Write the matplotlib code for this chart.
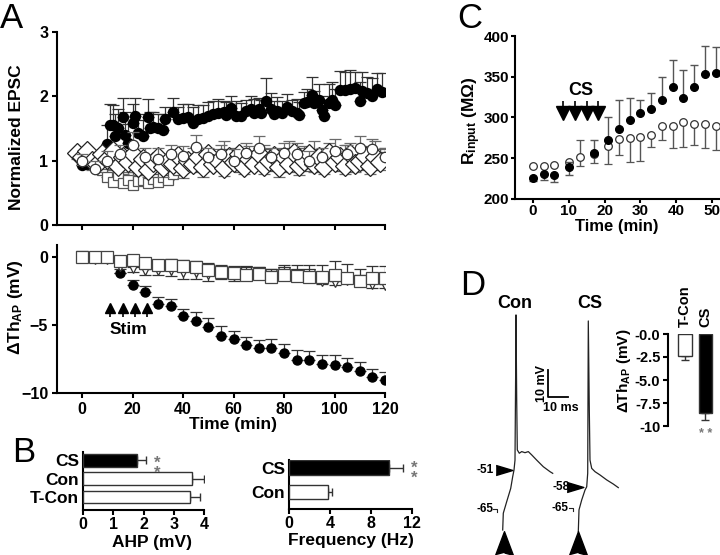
import numpy as np
import matplotlib
matplotlib.use('Agg')
import matplotlib.pyplot as plt

plt.rcParams['font.family'] = ['Liberation Sans', 'DejaVu Sans']
plt.rcParams['font.weight'] = 'bold'
plt.rcParams['mathtext.fontset'] = 'custom'
plt.rcParams['mathtext.rm'] = 'Liberation Sans:bold'
plt.rcParams['mathtext.bf'] = 'Liberation Sans:bold'
plt.rcParams['mathtext.it'] = 'Liberation Sans:bold'

# ---------------- data: panel A (top, normalized EPSC) ----------------
cs_epsc_t = [0, 2, 4, 6, 8, 10, 11, 12, 13, 14,
             16, 17, 18, 20, 21, 22, 24, 26, 27, 28,
             30, 32, 33, 36, 38, 40, 42, 44, 46, 48,
             50, 52, 54, 56, 57, 59, 61, 63, 65, 67,
             68, 70, 71, 73, 75, 76, 77, 79, 81, 83,
             85, 86, 88, 89, 91, 92, 94, 95, 96, 98,
             99, 100, 102, 104, 106, 108, 110, 111, 113, 115,
             117, 119]
cs_epsc = [0.93, 0.95, 0.98, 0.96, 1.00, 1.26, 1.56, 1.56, 1.38, 1.51,
           1.68, 1.40, 1.27, 1.58, 1.69, 1.43, 1.38, 1.68, 1.51, 1.53,
           1.51, 1.48, 1.64, 1.75, 1.64, 1.66, 1.68, 1.58, 1.65, 1.66,
           1.69, 1.73, 1.74, 1.75, 1.71, 1.82, 1.70, 1.69, 1.77, 1.80,
           1.74, 1.80, 1.74, 1.93, 1.80, 1.72, 1.77, 1.74, 1.83, 1.77,
           1.74, 1.71, 1.89, 1.91, 2.02, 1.89, 1.94, 1.79, 1.69, 1.89,
           1.94, 1.87, 2.10, 2.10, 2.11, 2.13, 1.92, 2.08, 2.05, 2.00,
           2.12, 2.06]
cs_epsc_err = [0.05, 0.05, 0.05, 0.05, 0.08, 0.30, 0.32, 0.30, 0.35, 0.30,
               0.30, 0.35, 0.30, 0.30, 0.28, 0.30, 0.25, 0.28, 0.25, 0.22,
               0.22, 0.25, 0.20, 0.22, 0.20, 0.22, 0.20, 0.25, 0.22, 0.20,
               0.22, 0.20, 0.22, 0.18, 0.20, 0.18, 0.22, 0.20, 0.18, 0.20,
               0.22, 0.18, 0.20, 0.35, 0.25, 0.20, 0.22, 0.18, 0.20, 0.18,
               0.22, 0.20, 0.18, 0.20, 0.28, 0.20, 0.25, 0.22, 0.18, 0.30,
               0.28, 0.25, 0.30, 0.28, 0.30, 0.25, 0.30, 0.30, 0.25, 0.28,
               0.25, 0.30]

dia_t = [-2, 0, 2, 4, 6, 8, 10, 12, 14, 16,
         18, 20, 22, 24, 26, 28, 30, 32, 34, 36,
         38, 40, 42, 44, 46, 48, 50, 52, 54, 56,
         58, 60, 62, 64, 66, 68, 70, 72, 74, 76,
         78, 80, 82, 84, 86, 88, 90, 92, 94, 96,
         98, 100, 102, 104, 106, 108, 110, 112, 114, 116,
         118]
dia_v = [1.12, 1.05, 1.15, 1.00, 0.95, 1.10, 1.02, 1.15, 0.92, 1.05,
         0.98, 1.10, 0.90, 1.02, 0.85, 0.98, 1.05, 0.90, 1.00, 0.95,
         1.08, 0.88, 1.00, 0.95, 1.05, 0.90, 1.10, 0.95, 1.00, 0.88,
         1.05, 0.98, 1.10, 0.90, 1.02, 0.95, 1.10, 0.92, 1.00, 1.08,
         0.90, 1.05, 0.95, 1.12, 0.92, 1.00, 1.10, 0.95, 1.05, 0.90,
         1.12, 0.98, 1.05, 0.92, 1.10, 0.95, 1.00, 1.08, 0.92, 1.05,
         0.98]
dia_err = [0.10, 0.12, 0.10, 0.15, 0.12, 0.10, 0.15, 0.12, 0.10, 0.12,
           0.15, 0.10, 0.12, 0.15, 0.10, 0.12, 0.10, 0.15, 0.12, 0.10,
           0.12, 0.15, 0.10, 0.12, 0.10, 0.15, 0.12, 0.10, 0.15, 0.12,
           0.10, 0.12, 0.15, 0.10, 0.12, 0.10, 0.15, 0.12, 0.10, 0.12,
           0.15, 0.10, 0.12, 0.10, 0.15, 0.12, 0.10, 0.12, 0.15, 0.10,
           0.12, 0.10, 0.15, 0.12, 0.10, 0.12, 0.15, 0.10, 0.12, 0.10,
           0.12]

sq_t = [0, 2, 4, 6, 8, 10, 12, 14, 16, 18,
        20, 22, 24, 26, 28, 30, 32, 34, 36, 38,
        40, 42, 44, 46, 48, 50, 52, 54, 56, 58,
        60, 62, 64, 66, 68, 70, 72, 74, 76, 78,
        80, 82, 84, 86, 88, 90, 92, 94, 96, 98,
        100, 102, 104, 106, 108, 110, 112, 114, 116, 118,
        120]
sq_v = [1.00, 0.97, 0.95, 0.90, 0.85, 0.75, 0.67, 0.78, 0.65, 0.70,
        0.62, 0.68, 0.70, 0.65, 0.72, 0.67, 0.75, 0.70, 0.80, 0.85,
        0.90, 0.95, 1.00, 0.92, 1.05, 0.95, 1.00, 0.98, 1.10, 0.95,
        1.05, 0.90, 1.00, 1.08, 0.95, 1.02, 1.10, 0.92, 1.00, 1.05,
        0.95, 1.12, 0.98, 1.00, 1.05, 0.92, 1.10, 1.00, 0.95, 1.08,
        1.00, 0.92, 1.05, 1.10, 0.95, 1.00, 1.05, 0.98, 1.10, 1.00,
        1.05]
sq_err = [0.10, 0.12, 0.15, 0.12, 0.15, 0.20, 0.18, 0.20, 0.15, 0.18,
          0.20, 0.15, 0.18, 0.20, 0.15, 0.18, 0.15, 0.20, 0.18, 0.15,
          0.18, 0.15, 0.20, 0.18, 0.15, 0.20, 0.18, 0.15, 0.20, 0.18,
          0.15, 0.20, 0.18, 0.15, 0.20, 0.18, 0.15, 0.20, 0.18, 0.15,
          0.20, 0.18, 0.15, 0.20, 0.18, 0.15, 0.20, 0.18, 0.15, 0.20,
          0.18, 0.15, 0.20, 0.18, 0.15, 0.20, 0.18, 0.15, 0.20, 0.18,
          0.15]

oc_t = [0, 5, 10, 15, 20, 25, 30, 35, 40, 45, 50, 55, 60,
        65, 70, 75, 80, 85, 90, 95, 100, 105, 110, 115, 120]
oc_v = [1.00, 0.87, 1.00, 1.10, 1.24, 1.05, 1.02, 1.10, 1.08, 1.22, 1.05, 1.10, 1.00,
        1.12, 1.19, 1.05, 1.12, 1.10, 1.00, 1.05, 1.15, 1.10, 1.20, 1.18, 1.05]
oc_err = [0.10, 0.12, 0.15, 0.15, 0.20, 0.15, 0.18, 0.15, 0.15, 0.18, 0.15, 0.15, 0.18,
          0.15, 0.20, 0.15, 0.15, 0.18, 0.15, 0.15, 0.18, 0.15, 0.18, 0.15, 0.15]

# ---------------- data: panel A (bottom, threshold change) ----------------
th_t = [0, 5, 10, 15, 20, 25, 30, 35, 40, 45, 50, 55, 60,
        65, 70, 75, 80, 85, 90, 95, 100, 105, 110, 115, 120]
th_cs = [0.0, -0.05, -0.10, -1.18, -2.06, -2.60, -3.45, -3.60, -4.34, -4.68, -5.17, -5.80, -6.05,
         -6.47, -6.70, -6.70, -7.08, -7.57, -7.60, -7.87, -7.94, -8.06, -8.35, -8.80, -9.05]
th_cs_err = [0.1, 0.1, 0.1, 0.0, 0.37, 0.45, 0.50, 0.50, 0.50, 0.60, 0.65, 0.70, 0.60,
             0.60, 0.60, 0.70, 0.70, 0.70, 0.70, 0.70, 0.70, 0.60, 0.60, 0.60, 0.60]
th_sq = [0.0, 0.0, 0.02, -0.27, -0.22, -0.47, -0.59, -0.59, -0.66, -0.71, -0.96, -1.08, -1.20,
         -1.32, -1.27, -1.45, -1.32, -1.40, -1.45, -1.50, -1.32, -1.57, -1.80, -1.55, -1.55]
th_sq_err = [0.10, 0.10, 0.15, 0.20, 0.30, 0.35, 0.40, 0.45, 0.45, 0.45, 0.50, 0.50, 0.55,
             0.60, 0.55, 0.60, 0.70, 0.80, 0.85, 0.90, 1.00, 1.05, 0.90, 0.90, 0.90]
th_tri = [0.0, -0.05, -0.10, -0.60, -0.75, -0.90, -0.90, -0.90, -1.00, -1.00, -1.15, -1.10, -1.25,
          -1.10, -1.15, -1.30, -1.20, -1.30, -1.35, -1.70, -1.75, -1.60, -1.75, -1.95, -2.00]
th_tri_err = [0.05, 0.10, 0.10, 0.30, 0.35, 0.40, 0.45, 0.50, 0.60, 0.60, 0.60, 0.50, 0.50,
              0.30, 0.30, 0.30, 0.30, 0.30, 0.30, 0.30, 0.30, 0.30, 0.30, 0.30, 0.30]
stim_t = [11, 16, 21, 25.5]

# ---------------- data: panel B ----------------
ahp_groups = ['T-Con', 'Con', 'CS']
ahp_vals = [3.55, 3.60, 1.80]
ahp_err = [0.32, 0.40, 0.27]
freq_groups = ['Con', 'CS']
freq_vals = [3.8, 9.75]
freq_err = [0.4, 1.35]

# ---------------- data: panel C ----------------
c_open_t = [0, 3, 6, 10, 13, 17, 21, 24, 27, 30, 33, 36, 39, 42, 45, 48, 51]
c_open = [241, 240.5, 242, 245, 252, 255, 265.5, 274, 275, 276.5, 279, 290, 289, 294, 292, 292, 290]
c_open_lo = [0, 0, 0, 0, 12, 11, 22, 20, 30, 30, 15, 18, 27, 30, 26, 30, 30]
c_open_hi = [0, 0, 0, 0, 20, 0, 0, 0, 0, 0, 0, 0, 0, 0, 0, 0, 0]
c_fill_t = [0, 3, 6, 10, 17, 21, 24, 27, 30, 33, 36, 39, 42, 45, 48, 51]
c_fill = [226, 230.7, 229.4, 239.7, 256, 272, 286, 297, 305, 310, 321, 337, 323.5, 337, 353, 355]
c_fill_lo = [4, 8, 9, 10, 0, 0, 0, 0, 0, 0, 0, 0, 0, 0, 0, 0]
c_fill_hi = [0, 0, 0, 6, 17, 28, 35, 27, 17, 20, 29, 33, 35, 28, 35, 32]
cs_marks_t = [8.5, 11.7, 15.0, 18.2]

# ---------------- data: panel D ----------------
con_trace_t = [11.35, 11.65, 13.35, 15.35, 16.35, 17.0, 17.5, 17.85, 18.0, 18.35,
               18.65, 19.65, 20.85, 22.5, 24.15, 25.85, 28.35, 31.65, 35.0, 36.35]
con_trace_v = [-72.8, -66.7, -62.5, -57.7, -53.4, -51.0, -47.4, -13.4, 5.4, -25.5,
               -43.7, -44.9, -44.3, -44.7, -44.3, -45.5, -47.4, -49.8, -51.6, -52.2]
cs_trace_t = [49.15, 49.5, 50.85, 52.5, 53.35, 53.85, 54.15, 54.65, 55.0, 55.85,
              57.5, 60.0, 63.35, 66.65, 69.15]
cs_trace_v = [-73.4, -65.5, -61.9, -58.3, -57.1, -52.2, 3.2, -29.2, -47.4, -50.4,
              -51.6, -52.8, -54.6, -56.1, -57.4]
dth_groups = ['T-Con', 'CS']
dth_vals = [-2.4, -8.6]
dth_err = [0.45, 0.75]

# ---------------- figure ----------------
W, H = 720, 555
fig = plt.figure(figsize=(W / 100, H / 100), dpi=100)


def add_ax(l, t, r, b):
    return fig.add_axes([l / W, 1 - b / H, (r - l) / W, (b - t) / H])


def ftext(x, y, s, **kw):
    return fig.text(x / W, 1 - y / H, s, **kw)


def style(ax, ticklen=3.8, pad=2.5, size=11.5):
    for s in ['top', 'right']:
        ax.spines[s].set_visible(False)
    for s in ['left', 'bottom']:
        ax.spines[s].set_linewidth(1.5)
    ax.tick_params(width=1.5, length=ticklen, labelsize=size, pad=pad, direction='out')


GREY = '#6a6a6a'

# ----- A top -----
ax1 = add_ax(57, 32, 385, 225)
style(ax1)
ax1.set_xlim(-10, 120)
ax1.set_ylim(0, 3)
ax1.set_xticks(range(0, 121, 20))
ax1.set_xticklabels([])
ax1.set_yticks([0, 1, 2, 3])

ekw = dict(capsize=4, elinewidth=0.9, capthick=0.9, ls='none')
z0 = np.zeros(len(sq_t))
ax1.errorbar(sq_t, sq_v, yerr=[z0, sq_err], marker='s', ms=7, mfc='white', mec='#555555',
             mew=0.9, ecolor=GREY, zorder=3, **ekw)
ax1.errorbar(cs_epsc_t, cs_epsc, yerr=[np.zeros(len(cs_epsc_t)), cs_epsc_err], marker='o', ms=7.2,
             mfc='black', mec='black', ecolor='#333333', zorder=4, **ekw)
ax1.errorbar(dia_t, dia_v, yerr=[dia_err, np.zeros(len(dia_t))], marker='D', ms=10, mfc='white',
             mec='#222222', mew=0.9, ecolor=GREY, zorder=5, **ekw)
ax1.errorbar(oc_t, oc_v, yerr=[np.zeros(len(oc_t)), oc_err], marker='o', ms=7.5, mfc='white',
             mec='#333333', mew=0.9, ecolor=GREY, zorder=6, **ekw)

# ----- A bottom -----
ax2 = add_ax(57, 245, 385, 393)
style(ax2)
ax2.set_xlim(-10, 120)
ax2.set_ylim(-10, 0.88)
ax2.set_xticks(range(0, 121, 20))
ax2.set_yticks([-10, -5, 0])
z1 = np.zeros(len(th_t))
ax2.errorbar(th_t, th_cs, yerr=[z1, th_cs_err], marker='o', ms=6.5, mfc='black', mec='black',
             ecolor='#333333', zorder=3, **ekw)
ax2.errorbar(th_t, th_tri, yerr=[th_tri_err, z1], marker='v', ms=9, mfc='white', mec='#333333',
             mew=0.9, ecolor='#333333', zorder=4, **ekw)
ax2.errorbar(th_t, th_sq, yerr=[z1, th_sq_err], marker='s', ms=8.5, mfc='white', mec='#444444',
             mew=0.9, ecolor='#333333', zorder=5, **ekw)
ax2.plot(stim_t, [-3.75] * len(stim_t), ls='none', marker='^', ms=7.5, color='black', zorder=6)
ax2.vlines(stim_t, -4.4, -3.9, color='black', lw=1.2)
ax2.text(18.5, -5.3, 'Stim', ha='center', va='center', fontsize=12.5, fontweight='bold')

ftext(17, 137, 'Normalized EPSC', rotation=90, ha='center', va='center', fontsize=12.5)
ftext(16, 307, 'ΔTh$_{\\mathrm{AP}}$ (mV)', rotation=90, ha='center', va='center', fontsize=12.5)
ftext(233, 425, 'Time (min)', ha='center', va='center', fontsize=12.5)

# ----- B left (AHP) -----
ax3 = add_ax(83, 452, 204, 510)
style(ax3, pad=1.2)
ax3.set_xlim(0, 4)
ax3.set_ylim(-0.71, 2.46)
ahp_y = list(range(len(ahp_groups)))
ax3.barh(ahp_y, ahp_vals, height=0.68, color=['white', 'white', 'black'], edgecolor='#333333',
         lw=1.0, zorder=3)
ax3.errorbar(ahp_vals, ahp_y, xerr=[np.zeros(3), ahp_err], ls='none', ecolor='#333333',
             elinewidth=1, capsize=3, capthick=1, zorder=2)
ax3.set_yticks(ahp_y)
ax3.set_yticklabels(ahp_groups, fontsize=12.5)
ax3.tick_params(axis='y', length=0, pad=3)
ax3.set_xticks([0, 1, 2, 3, 4])
ftext(152, 543, 'AHP (mV)', ha='center', va='center', fontsize=12.5)
ftext(157, 468, '*\n*', ha='center', va='center', fontsize=12, color='#777777', linespacing=0.6)

# ----- B right (frequency) -----
ax4 = add_ax(289, 460, 412, 509)
style(ax4, pad=1.2)
ax4.set_xlim(0, 12)
ax4.set_ylim(-0.71, 1.33)
fy = list(range(len(freq_groups)))
ax4.barh(fy, freq_vals, height=0.62, color=['white', 'black'], edgecolor='#333333', lw=1.0, zorder=3)
ax4.errorbar(freq_vals, fy, xerr=[np.zeros(2), freq_err], ls='none', ecolor='#333333',
             elinewidth=1, capsize=3, capthick=1, zorder=2)
ax4.set_yticks(fy)
ax4.set_yticklabels(freq_groups, fontsize=12.5)
ax4.tick_params(axis='y', length=0, pad=3)
ax4.set_xticks([0, 4, 8, 12])
ftext(351, 540, 'Frequency (Hz)', ha='center', va='center', fontsize=12.5)
ftext(414, 473, '*\n*', ha='center', va='center', fontsize=12, color='#777777', linespacing=0.6)

# ----- C -----
ax5 = add_ax(515, 36, 720, 199)
style(ax5, ticklen=3.0, pad=0.3, size=11)
ax5.set_xlim(-5, 52.2)
ax5.set_ylim(200, 400)
ax5.set_yticks([200, 250, 300, 350, 400])
ax5.set_xticks([0, 10, 20, 30, 40, 50])
ax5.tick_params(axis='y', pad=1.5)
ekc = dict(capsize=3, elinewidth=1.0, capthick=1.0, ls='none', ecolor='#555555')
ax5.errorbar(c_open_t, c_open, yerr=[c_open_lo, c_open_hi], marker='o', ms=5.5, mfc='white',
             mec='#333333', mew=0.9, zorder=4, **ekc)
ax5.errorbar(c_fill_t, c_fill, yerr=[c_fill_lo, c_fill_hi], marker='o', ms=5.5, mfc='black',
             mec='black', zorder=5, **ekc)
ax5.plot(cs_marks_t, [306] * len(cs_marks_t), ls='none', marker='v', ms=10.5, color='black')
ax5.vlines(cs_marks_t, 311, 320, color='black', lw=1.2)
ax5.text(13.4, 333, 'CS', ha='center', va='center', fontsize=13)
ftext(617, 227, 'Time (min)', ha='center', va='center', fontsize=12)
ftext(472, 121, 'R$_{\\mathrm{input}}$ (MΩ)', rotation=90, ha='center', va='center', fontsize=12.5)

# ----- D traces -----
ax7 = add_ax(480, 305, 640, 555)
ax7.set_axis_off()
ax7.set_xlim(0, 80)
ax7.set_ylim(-81.9, 9.0)
ax7.plot(con_trace_t, con_trace_v, color='#222222', lw=0.9)
ax7.plot(cs_trace_t, cs_trace_v, color='#222222', lw=0.9)
ax7.plot([6.5, 8.5, 8.5], [-65.2, -65.2, -66.3], color='#222222', lw=0.8)
ax7.plot([44.5, 46.5, 46.5], [-64.8, -64.8, -65.8], color='#222222', lw=0.8)
tri_r = [(-1, 0.6), (1, 0), (-1, -0.6)]
ax7.plot([11.8], [-51], marker=tri_r, ms=12, color='black', clip_on=False)
ax7.plot([47.5], [-57.3], marker=tri_r, ms=12, color='black', clip_on=False)
arrow_up = [(-0.75, -1), (0, 1), (0.75, -1), (0, -0.8)]
ax7.plot([11.75, 49.0], [-77.7, -77.7], ls='none', marker=arrow_up, ms=17, color='black',
         clip_on=False)
ax7.text(2.5, -51, '-51', ha='center', va='center', fontsize=8.5)
ax7.text(40.5, -57.3, '-58', ha='center', va='center', fontsize=8.5)
ax7.text(2.5, -65.2, '-65', ha='center', va='center', fontsize=8.5)
ax7.text(40.0, -64.9, '-65', ha='center', va='center', fontsize=8.5)
# scale bar 10 mV / 10 ms
ax7.plot([34, 34, 44], [-14.5, -24.5, -24.5], color='black', lw=1.3)
ax7.text(31.0, -19.5, '10 mV', rotation=90, ha='center', va='center', fontsize=9)
ax7.text(40.5, -28.5, '10 ms', ha='center', va='center', fontsize=9)
ftext(515, 303, 'Con', ha='center', va='center', fontsize=13)
ftext(590, 303, 'CS', ha='center', va='center', fontsize=13)

# ----- D inset bars -----
ax6 = add_ax(668, 334, 720, 426)
for s in ['top', 'right', 'bottom']:
    ax6.spines[s].set_visible(False)
ax6.spines['left'].set_linewidth(1.5)
ax6.tick_params(axis='y', width=1.5, length=3.5, labelsize=10.5, pad=2)
ax6.set_xticks([])
ax6.set_xlim(-0.83, 1.71)
ax6.set_ylim(-10, 0)
dx = list(range(len(dth_groups)))
ax6.bar(dx, dth_vals, width=0.68, color=['white', 'black'], edgecolor='#333333', lw=1.0, zorder=3)
ax6.errorbar(dx, dth_vals, yerr=[dth_err, np.zeros(2)], ls='none', ecolor='#333333',
             elinewidth=1, capsize=3, capthick=1, zorder=2)
ax6.set_yticks([0, -2.5, -5, -7.5, -10])
ax6.set_yticklabels(['-0.0', '-2.5', '-5.0', '-7.5', '-10'])
for xi, g in zip(dx, dth_groups):
    ax6.text(xi, 0.8, g, rotation=90, ha='center', va='bottom', fontsize=10.5)
ax6.text(1, -10.9, '* *', ha='center', va='center', fontsize=9, color='#777777', clip_on=False)
ftext(624, 371, 'ΔTh$_{\\mathrm{AP}}$ (mV)', rotation=90, ha='center', va='center', fontsize=11)

# ----- panel letters -----
for lx, ly, L in [(0, 28, 'A'), (12, 462, 'B'), (457, 28, 'C'), (460, 295, 'D')]:
    ftext(lx, ly, L, ha='left', va='baseline', fontsize=25, fontweight='normal')

fig.savefig('out.png', dpi=100)
